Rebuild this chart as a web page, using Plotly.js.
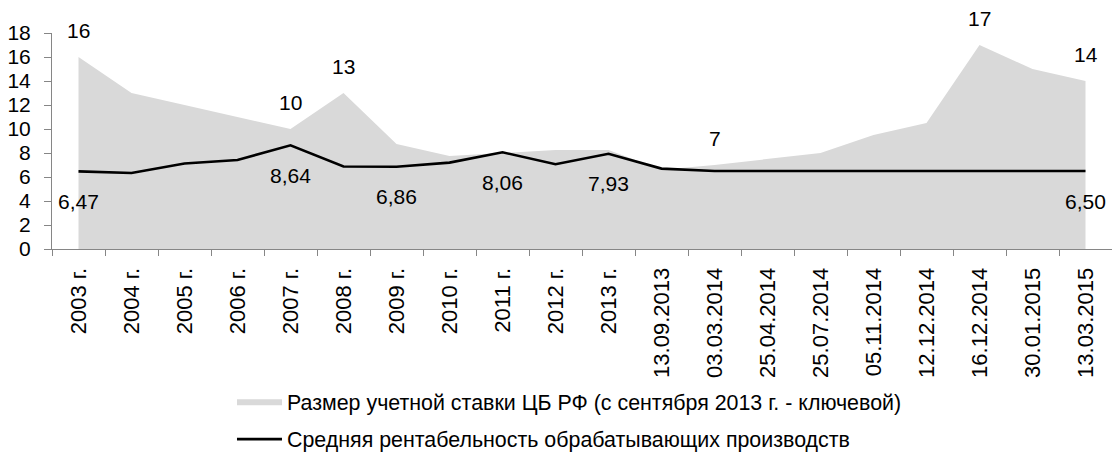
<!DOCTYPE html>
<html>
<head>
<meta charset="utf-8">
<script src="https://cdn.plot.ly/plotly-3.0.1.min.js"></script>
<style>html,body{margin:0;padding:0;background:#fff;}#chart{width:1112px;height:454px;}</style>
</head>
<body>
<div id="chart"></div>
<script>
const categories = ["2003 г.","2004 г.","2005 г.","2006 г.","2007 г.","2008 г.","2009 г.","2010 г.","2011 г.","2012 г.","2013 г.","13.09.2013","03.03.2014","25.04.2014","25.07.2014","05.11.2014","12.12.2014","16.12.2014","30.01.2015","13.03.2015"];
const rateValues = [16,13,12,11,10,13,8.75,7.75,8,8.25,8.25,6.6,7,7.5,8,9.5,10.5,17,15,14];
const profitValues = [6.47,6.33,7.12,7.42,8.64,6.88,6.86,7.2,8.06,7.07,7.93,6.7,6.5,6.5,6.5,6.5,6.5,6.5,6.5,6.5];
const rateLabels = ["16","","","","10","13","","","","","","","7","","","","","17","","14"];
const profitLabels = ["6,47","","","","8,64","","6,86","","8,06","","7,93","","","","","","","","","6,50"];
const rateName = "Размер учетной ставки ЦБ РФ (с сентября 2013 г. - ключевой)";
const profitName = "Средняя рентабельность обрабатывающих производств";
const yTicks = [0,2,4,6,8,10,12,14,16,18];

const FONT = "Liberation Sans, Arial, sans-serif";
const FS = 21;

const traces = [
  {x: categories, y: rateValues, type: "scatter", mode: "lines", fill: "tozeroy",
   fillcolor: "#d9d9d9", line: {width: 0, color: "#d9d9d9"}, name: rateName,
   legendgroup: "a", hoverinfo: "skip"},
  {x: categories, y: profitValues, type: "scatter", mode: "lines",
   line: {width: 2.6, color: "#000000"}, name: profitName,
   legendgroup: "b", hoverinfo: "skip"}
];

const annotations = [];
categories.forEach((c, i) => {
  if (rateLabels[i]) annotations.push({x: c, y: rateValues[i], text: rateLabels[i], showarrow: false, yshift: 27, font: {family: FONT, size: FS, color: "#000"}});
  if (profitLabels[i]) annotations.push({x: c, y: profitValues[i], text: profitLabels[i], showarrow: false, yshift: -30, font: {family: FONT, size: FS, color: "#000"}});
});

const layout = {
  width: 1112, height: 454,
  margin: {l: 52, r: 0, t: 33, b: 205, autoexpand: false},
  paper_bgcolor: "#fff", plot_bgcolor: "#fff",
  font: {family: FONT, size: FS, color: "#000"},
  showlegend: true,
  legend: {orientation: "v", x: 0.1698, xanchor: "left", yref: "container", y: 0.161, yanchor: "top",
    font: {family: FONT, size: 21.4, color: "#000"}, traceorder: "grouped", tracegroupgap: 7,
    itemwidth: 45, bgcolor: "rgba(0,0,0,0)"},
  xaxis: {type: "category", range: [-0.5, 19.5], tickson: "boundaries", ticks: "outside", ticklen: 6,
    tickcolor: "#868686", showline: true, linecolor: "#868686", linewidth: 1, tickangle: -90,
    ticklabelstandoff: 9, automargin: false,
    showgrid: false, zeroline: false, tickfont: {family: FONT, size: 22, color: "#000"}},
  yaxis: {range: [0, 18], tickvals: yTicks, ticktext: yTicks.map(String), ticks: "outside", ticklen: 7,
    tickcolor: "#868686", showline: true, linecolor: "#868686", linewidth: 1, showgrid: false,
    ticklabelstandoff: 9, automargin: false,
    zeroline: false, tickfont: {family: FONT, size: FS, color: "#000"}},
  annotations: annotations
};

Plotly.newPlot("chart", traces, layout, {staticPlot: true, displayModeBar: false});
</script>
</body>
</html>
